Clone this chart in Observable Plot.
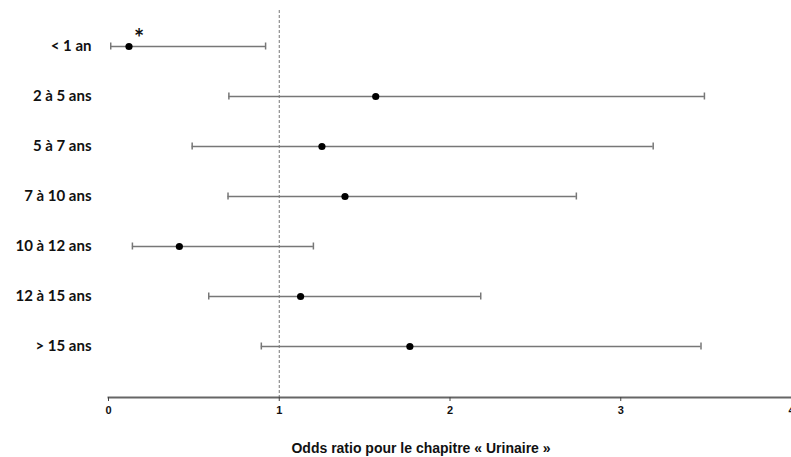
<!DOCTYPE html>
<html>
<head>
<meta charset="utf-8">
<script src="https://cdn.jsdelivr.net/npm/d3@7"></script>
<script src="https://cdn.jsdelivr.net/npm/@observablehq/plot@0.6"></script>
<style>
  html, body { margin: 0; padding: 0; background: #fff; }
  #chart svg { display: block; }
</style>
</head>
<body>
<div id="chart"></div>
<script>
const categories = ["< 1 an", "2 à 5 ans", "5 à 7 ans", "7 à 10 ans", "10 à 12 ans", "12 à 15 ans", "> 15 ans"];
const oddsRatio = [0.12, 1.565, 1.25, 1.385, 0.415, 1.125, 1.765];
const lower     = [0.013, 0.705, 0.49, 0.70, 0.14, 0.587, 0.895];
const upper     = [0.92, 3.49, 3.19, 2.74, 1.20, 2.18, 3.47];
const significance = ["*", "", "", "", "", "", ""];
const xTicks = [0, 1, 2, 3, 4];
const referenceLine = [1];
const axisTitle = "Odds ratio pour le chapitre « Urinaire »";

const rows = categories.map((c, i) => ({
  label: c, or: oddsRatio[i], lo: lower[i], hi: upper[i], sig: significance[i]
}));

const plot = Plot.plot({
  width: 791,
  height: 457,
  marginLeft: 108,
  marginRight: 0,
  marginTop: 10,
  marginBottom: 60,
  style: { background: "#fff", overflow: "visible" },
  x: { domain: [0, 4] },
  y: { type: "band", domain: categories, range: [20, 371], padding: 0 },
  marks: [
    Plot.ruleX(referenceLine, { stroke: "#777", strokeWidth: 1, strokeDasharray: "3,2" }),
    Plot.ruleY(rows, { y: "label", x1: "lo", x2: "hi", stroke: "#777", strokeWidth: 1.5 }),
    Plot.tickX(rows, { x: "lo", y: "label", stroke: "#777", strokeWidth: 1.5, insetTop: 21.5, insetBottom: 21.5 }),
    Plot.tickX(rows, { x: "hi", y: "label", stroke: "#777", strokeWidth: 1.5, insetTop: 21.5, insetBottom: 21.5 }),
    Plot.dot(rows, { x: "or", y: "label", r: 3.6, fill: "black", stroke: "none" }),
    Plot.text(rows.filter(d => d.sig), { x: "or", y: "label", text: "sig", dx: 10, dy: -7, fontSize: 24, fontWeight: "bold", fontFamily: "Lato", fill: "#111" }),
    Plot.frame({ anchor: "bottom", stroke: "#666", strokeWidth: 2 }),
    Plot.axisX({ ticks: xTicks, tickFormat: d3.format("d"), tickSize: 4, tickPadding: 5, stroke: "#444", fill: "#111",
                 fontSize: 11, fontWeight: "bold", fontFamily: "Liberation Sans", label: null }),
    Plot.axisY({ tickSize: 0, tickPadding: 17, fontSize: 15, fontWeight: "bold", fontFamily: "Lato", fill: "#111", label: null }),
    Plot.text([axisTitle], { frameAnchor: "bottom", dx: -29, dy: 55, text: d => d, fontSize: 14, fontWeight: "bold",
                 fontFamily: "Liberation Sans", fill: "#111", textAnchor: "middle" })
  ]
});
document.getElementById("chart").appendChild(plot);
</script>
</body>
</html>
